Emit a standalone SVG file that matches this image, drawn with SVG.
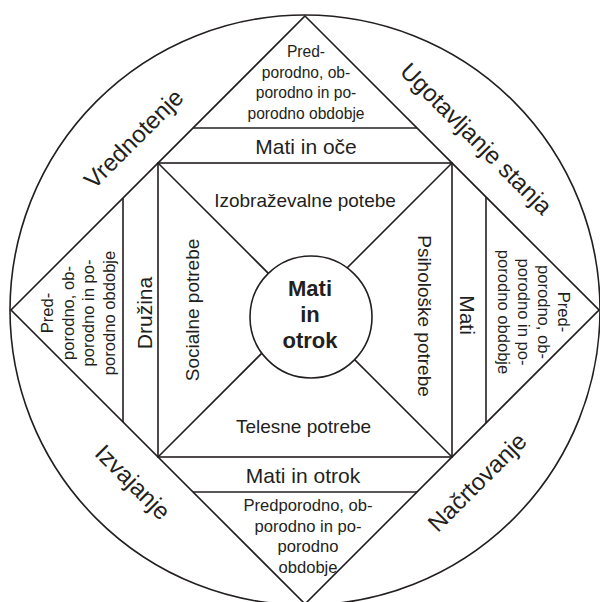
<svg xmlns="http://www.w3.org/2000/svg" width="600" height="602" viewBox="0 0 600 602">
<style>
.ln{fill:none;stroke:#231f20;stroke-width:1.6}
.t{font-family:"Liberation Sans",Arial,Helvetica,sans-serif;fill:#231f20;text-anchor:middle}
.outer{font-size:24px}
.band{font-size:21px}
.need{font-size:19px}
.tri{font-size:16.6px}
.trit{font-size:15.6px}
.core{font-size:22px;font-weight:bold}
</style>
<rect x="0" y="0" width="600" height="602" fill="#ffffff"/>
<g id="frame">
<circle class="ln" cx="305" cy="310" r="295"/>
<polygon class="ln" points="305,16 599,310 305,604 11,310"/>
<rect class="ln" x="158" y="163" width="294" height="294"/>
</g>
<g id="connectors">
<line class="ln" x1="158" y1="163" x2="452" y2="457"/>
<line class="ln" x1="452" y1="163" x2="158" y2="457"/>
<line class="ln" x1="193" y1="128" x2="417" y2="128"/>
<line class="ln" x1="193" y1="492" x2="417" y2="492"/>
<line class="ln" x1="123" y1="198" x2="123" y2="422"/>
<line class="ln" x1="486" y1="197" x2="486" y2="423"/>
</g>
<g id="phase-vrednotenje"><text class="t outer" transform="translate(139.5,144.5) rotate(-45)">Vrednotenje</text></g>
<g id="phase-ugotavljanje"><text class="t outer" transform="translate(470.5,144.5) rotate(45)">Ugotavljanje stanja</text></g>
<g id="phase-izvajanje"><text class="t outer" transform="translate(127,488) rotate(45)">Izvajanje</text></g>
<g id="phase-nacrtovanje"><text class="t outer" transform="translate(483,488) rotate(-45)">Načrtovanje</text></g>
<g id="tri-top">
<text class="t trit" x="306" y="57">Pred-</text>
<text class="t trit" x="306" y="77.5">porodno, ob-</text>
<text class="t trit" x="306" y="98">porodno in po-</text>
<text class="t trit" x="306" y="118.5">porodno obdobje</text>
</g>
<g id="tri-bottom">
<text class="t tri" x="308" y="511">Predporodno, ob-</text>
<text class="t tri" x="308" y="531.5">porodno in po-</text>
<text class="t tri" x="308" y="552">porodno</text>
<text class="t tri" x="308" y="572.5">obdobje</text>
</g>
<g id="tri-left" transform="translate(0,313) rotate(-90)">
<text class="t tri" x="0" y="53">Pred-</text>
<text class="t tri" x="0" y="73.5">porodno, ob-</text>
<text class="t tri" x="0" y="94">porodno in po-</text>
<text class="t tri" x="0" y="114.5">porodno obdobje</text>
</g>
<g id="tri-right" transform="translate(600,312) rotate(90)">
<text class="t tri" x="0" y="42">Pred-</text>
<text class="t tri" x="0" y="62">porodno, ob-</text>
<text class="t tri" x="0" y="82">porodno in po-</text>
<text class="t tri" x="0" y="102">porodno obdobje</text>
</g>
<g id="band-top"><text class="t band" x="306" y="154">Mati in oče</text></g>
<g id="band-bottom"><text class="t band" x="303" y="483">Mati in otrok</text></g>
<g id="band-left"><text class="t band" transform="translate(152,313) rotate(-90)">Družina</text></g>
<g id="band-right"><text class="t band" transform="translate(460,315) rotate(90)">Mati</text></g>
<g id="need-top"><text class="t need" x="305" y="207">Izobraževalne potebe</text></g>
<g id="need-bottom"><text class="t need" x="303.5" y="433">Telesne potrebe</text></g>
<g id="need-left"><text class="t need" transform="translate(199,310) rotate(-90)">Socialne potrebe</text></g>
<g id="need-right"><text class="t need" transform="translate(418,316) rotate(90)">Psihološke potrebe</text></g>
<g id="core">
<circle cx="311" cy="317" r="61" fill="#ffffff" stroke="#231f20" stroke-width="1.6"/>
<text class="t core" x="310" y="296">Mati</text>
<text class="t core" x="310" y="322">in</text>
<text class="t core" x="310" y="348">otrok</text>
</g>
</svg>
